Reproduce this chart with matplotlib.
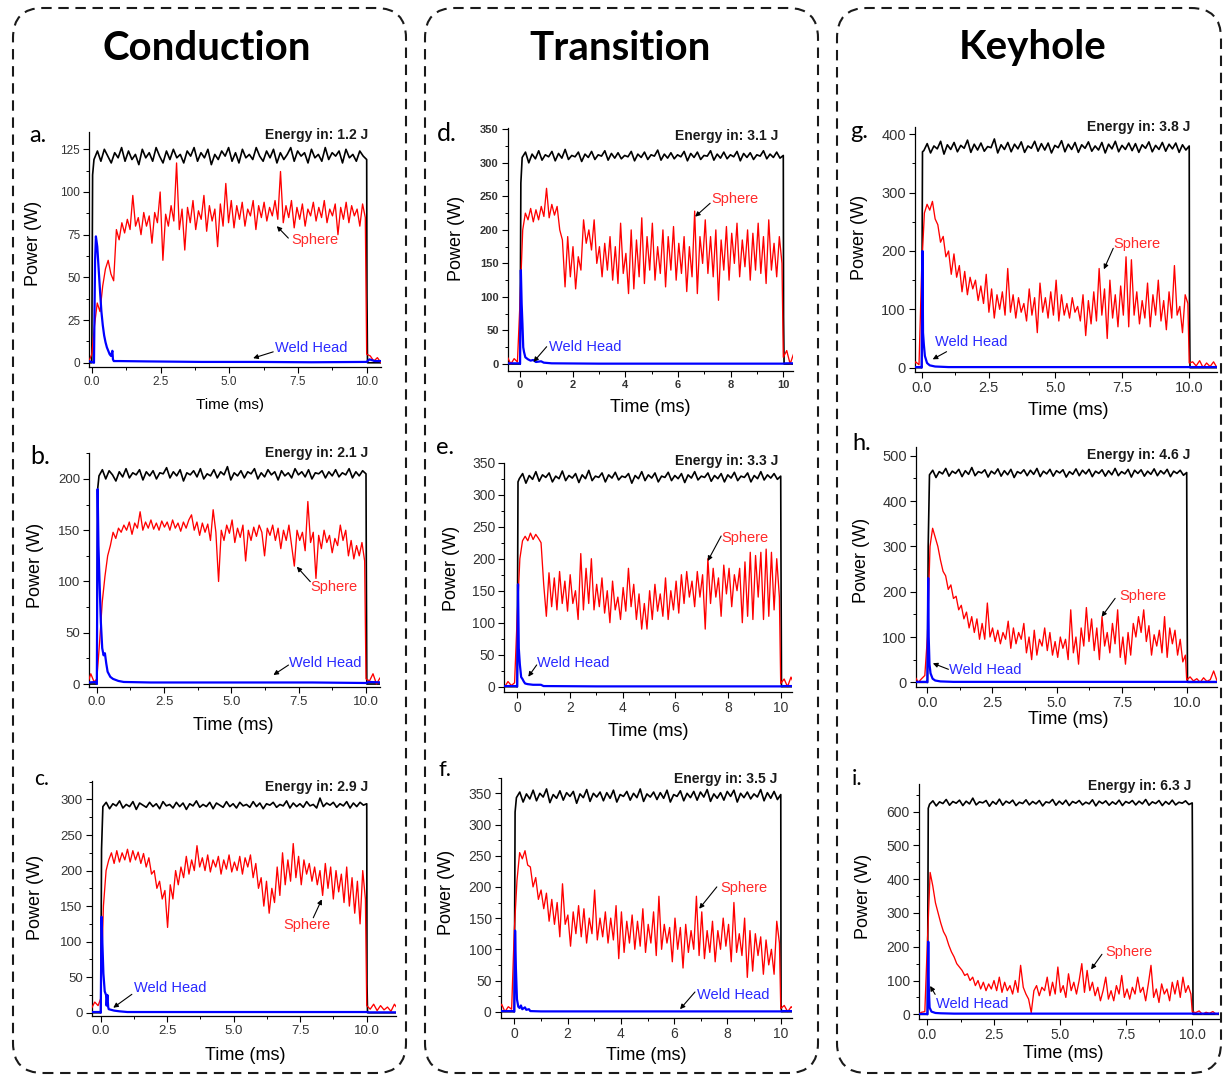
import numpy as np
import matplotlib
matplotlib.use('Agg')
import matplotlib.pyplot as plt
from matplotlib.patches import FancyBboxPatch
from matplotlib.transforms import IdentityTransform
from matplotlib.ticker import MultipleLocator, FormatStrFormatter

# ---------------- DATA ----------------
column_titles = ["Conduction", "Transition", "Keyhole"]
panel_letters = ["a.", "b.", "c.", "d.", "e.", "f.", "g.", "h.", "i."]
energy_in = [1.2, 2.1, 2.9, 3.1, 3.3, 3.5, 3.8, 4.6, 6.3]

# Laser (input) power plateau samples, t = 0.1 .. 10.0 ms
laser_a = [119,124,118,125,121,117,123,120,126,118,124,119,122,116,125,120,123,118,126,121,117,124,119,125,120,122,117,124,121,126,118,123,120,125,116,122,119,124,121,126,118,123,117,125,120,122,119,126,121,118,124,120,125,117,123,119,122,126,118,124,121,123,117,125,120,122,118,126,119,123,121,124,117,125,120,122,118,124,121,119]
laser_b = [203,209,200,208,204,198,207,202,210,201,206,204,209,199,207,203,208,200,206,205,211,201,207,203,209,198,206,204,208,202,210,200,205,203,209,201,207,204,212,199,206,203,208,201,207,205,210,200,206,202,209,204,207,199,208,203,206,201,210,204,207,202,209,200,206,205,208,201,207,203,209,202,206,204,210,201,207,203,208,205]
laser_c = [290,296,287,294,291,298,288,293,290,297,286,295,292,289,296,290,294,287,297,291,293,288,296,290,295,286,294,291,298,289,293,290,296,287,295,292,289,297,290,294,288,296,291,293,289,297,290,295,287,294,292,296,289,293,291,298,288,295,290,294,289,297,291,293,288,302,290,295,292,296,289,294,291,297,288,295,290,296,292,294]
laser_d = [308,316,300,313,306,318,304,312,309,317,303,314,307,320,305,311,309,316,302,313,308,317,305,312,310,318,304,314,307,315,306,311,309,317,303,313,308,316,305,312,310,319,304,313,307,315,306,312,309,317,303,314,308,316,305,311,310,318,304,313,307,316,306,312,309,317,303,314,308,315,305,312,310,318,306,313,308,316,307,311]
laser_e = [325,333,318,330,324,336,321,331,327,334,320,329,325,337,322,330,326,333,319,331,325,338,322,329,327,334,320,331,326,335,323,329,327,333,318,330,325,336,322,331,326,334,320,329,327,335,322,330,325,333,319,331,326,336,323,329,327,334,321,330,325,333,320,331,326,335,322,329,327,334,320,330,325,336,323,331,326,333,324,329]
laser_f = [343,352,336,349,341,355,338,350,344,357,335,348,342,354,339,351,345,353,334,349,343,356,337,350,344,352,338,351,342,355,336,348,345,353,339,350,343,357,337,349,344,352,340,351,342,355,336,348,345,354,338,350,343,353,339,352,344,356,337,349,342,351,339,353,345,355,336,350,343,352,341,349,344,356,338,351,342,353,340,348]
laser_g = [372,384,368,380,375,388,366,382,374,386,370,381,376,390,369,383,373,385,371,379,377,392,368,382,374,386,370,383,375,387,369,380,376,388,371,384,373,385,368,381,377,389,370,383,374,386,369,382,376,387,371,380,373,386,368,383,375,388,370,381,374,385,372,384,369,382,376,387,370,381,374,386,371,383,375,385,369,382,373,380]
laser_h = [458,468,452,465,460,472,455,466,461,470,454,467,459,474,456,465,462,469,453,466,460,471,455,467,458,470,452,465,461,469,456,468,459,472,454,466,460,470,455,467,462,469,453,465,459,471,456,468,460,470,454,466,461,469,455,467,458,472,456,465,460,470,453,468,461,469,455,466,459,471,456,467,460,470,454,466,461,468,457,463]
laser_i = [622,632,617,629,624,636,619,630,625,634,618,631,623,640,620,629,626,633,616,630,622,637,619,631,625,634,618,628,624,635,620,630,623,633,617,629,626,636,619,631,622,634,618,630,625,633,620,628,623,635,617,631,624,632,619,629,622,634,618,630,625,633,620,631,623,636,619,629,624,633,618,630,622,634,620,628,625,632,621,626]
laser_rise = [110, 190, 230, 270, 320, 320, 370, 300, 610]   # first sample on the rising edge (W)
laser_fall = [40, 125, 40, 70, 200, 10, 115, 250, 460]       # last sample on the falling edge (W)

# Sphere (absorbed) power: before pulse (-0.5..-0.1 ms), during (0..9.9 ms), after (10..11 ms)
sphere_a_pre = [2,5,0,4,1]
sphere_a_on = [5,22,35,30,45,55,60,52,48,78, 72,82,76,84,78,98,80,85,75,88, 80,86,70,88,82,100,60,87,80,92, 83,117,78,90,66,91,82,95,78,89, 84,98,77,92,83,90,68,93,80,105, 82,95,79,92,84,94,80,90,86,95, 78,92,85,94,83,91,86,95,84,112, 82,92,85,95,79,91,84,93,80,90, 86,94,83,91,85,95,82,90,86,93, 75,91,84,94,82,92,86,90,80,93,85]
sphere_a_off = [5,4,1,3,0,2,1,3,0,2,1]

sphere_b_pre = [3,8,0,10,2]
sphere_b_on = [5,40,80,105,125,135,148,142,152,148, 155,150,158,146,157,152,168,150,158,152, 160,151,157,150,159,153,158,150,160,152, 157,149,158,152,160,165,150,158,145,157, 148,156,140,170,148,100,150,140,155,147, 160,138,152,143,155,120,150,140,153,144, 155,148,125,152,145,155,140,152,132,150, 140,155,135,115,150,140,148,130,178,138, 148,103,145,132,150,138,145,128,142,135, 155,140,150,125,140,122,135,125,138,120]
sphere_b_off = [5,3,10,0,6,2,4,1,3,0,2]

sphere_c_pre = [8,12,6,15,10]
sphere_c_on = [20,150,200,215,225,210,228,212,225,215, 230,212,228,215,226,210,224,205,218,195, 200,175,185,160,172,120,180,160,200,180, 205,190,220,195,215,200,235,205,218,200, 222,198,215,205,220,195,215,202,222,198, 212,200,220,195,218,205,222,190,210,175, 190,150,185,140,175,155,205,165,225,180, 215,185,238,190,220,180,215,195,210,185, 205,180,200,165,210,175,205,160,200,170, 195,155,205,150,190,140,185,125,200,160]
sphere_c_off = [10,5,12,3,10,4,8,2,12,5,9]

sphere_d_pre = [5,10,0,8,3]
sphere_d_on = [95,200,225,215,232,212,230,215,235,220, 262,218,238,222,235,200,185,115,190,130, 175,112,160,140,215,180,200,170,215,150, 175,130,180,140,190,125,175,120,210,135, 165,105,200,112,185,130,218,120,190,140, 210,125,175,135,200,115,190,140,205,125, 180,135,190,108,175,130,228,105,190,150, 215,135,190,130,200,95,185,140,205,125, 195,150,210,130,185,145,200,125,195,140, 210,135,190,120,215,140,180,130,190,150]
sphere_d_off = [10,20,0,15,5,18,2,10,0,8,4]

sphere_e_pre = [5,0,8,2,6]
sphere_e_on = [110,200,228,235,228,240,230,238,232,225, 160,110,178,125,170,120,180,130,165,118, 175,130,150,105,208,120,185,130,200,120, 160,125,170,115,150,100,165,120,140,105, 155,118,185,125,160,105,145,90,130,90, 150,105,160,118,145,110,170,105,150,120, 165,115,175,130,180,140,165,125,180,140, 175,90,200,130,185,140,170,110,190,145, 185,125,175,150,185,100,195,110,210,105, 205,140,210,105,215,110,210,120,200,140]
sphere_e_off = [5,12,0,15,3,10,0,8,2,5,1]

sphere_f_pre = [3,12,0,8,4]
sphere_f_on = [130,210,255,245,258,235,232,200,215,180, 195,165,190,145,180,140,175,120,205,140, 155,105,160,125,170,120,165,110,150,125, 195,115,150,120,160,110,150,115,170,85, 160,95,145,110,155,100,145,105,165,95, 140,110,160,90,185,100,140,110,135,80, 150,100,135,70,140,95,130,100,185,90, 160,85,130,95,145,80,130,100,150,105, 140,80,175,95,125,90,150,55,130,65, 125,90,120,60,115,75,100,60,145,110]
sphere_f_off = [5,10,0,8,3,12,0,6,2,5,1]

sphere_g_pre = [2,8,0,10,5]
sphere_g_on = [170,265,280,270,285,255,245,215,225,190, 200,160,195,155,175,130,165,125,155,135, 150,115,140,110,160,95,135,85,125,100, 130,90,170,95,125,85,120,95,110,80, 135,90,120,60,145,95,120,85,130,90, 150,80,125,90,110,85,120,95,105,80, 125,55,115,75,130,80,170,90,135,50, 150,85,125,70,140,90,190,70,185,90, 130,75,115,85,145,70,125,90,150,80, 115,65,130,85,175,90,105,60,125,110]
sphere_g_off = [8,10,3,12,0,8,2,10,0,6,3]

sphere_h_pre = [5,12,0,8,15]
sphere_h_on = [100,300,340,320,300,270,245,235,205,215, 185,190,160,170,140,155,120,145,110,140, 95,130,95,175,100,120,90,115,85,110, 95,135,75,120,85,110,95,130,65,100, 50,115,60,95,80,120,70,110,60,90, 55,100,75,95,50,160,65,100,40,120, 80,165,90,140,70,120,50,145,80,110, 65,130,85,160,55,100,40,110,60,130, 100,145,110,160,90,125,60,105,80,115, 65,145,55,120,85,115,60,95,45,60]
sphere_h_off = [5,12,3,8,0,10,2,6,25,3,8]

sphere_i_pre = [3,10,0,6,8]
sphere_i_on = [220,420,380,330,300,270,245,230,205,185, 170,150,140,130,115,120,100,110,85,100, 75,95,70,90,75,100,70,110,65,95, 70,85,60,100,65,145,80,60,45,5, 70,85,55,80,70,110,55,95,60,140, 65,85,50,120,70,95,60,100,150,65, 130,70,95,55,80,40,70,110,45,70, 40,85,60,115,50,75,45,80,60,110, 65,80,40,90,145,50,75,35,90,60, 75,40,95,60,100,50,110,65,85,60]
sphere_i_off = [8,5,10,0,6,3,8,0,5,2,10]

# Weld head (reflected) power: sample times (ms) and values (W)
weld_t_a = [-0.6,-0.3,0.08,0.12,0.15,0.2,0.25,0.3,0.35,0.4,0.45,0.5,0.55,0.6,0.65,0.7,0.75,0.77,0.8,1.0,2.0,4.0,6.0,8.0,10.0,10.1,10.3,11.2]
weld_p_a = [1,2,0,60,74,68,55,42,30,22,16,12,9,7,5,4,7,2,1,1,0.8,0.5,0.5,0.3,0.5,2,1,1]
weld_t_b = [-0.6,-0.02,0.0,0.03,0.06,0.1,0.15,0.2,0.25,0.3,0.35,0.4,0.5,0.6,0.8,1.0,2.0,4.0,6.0,8.0,10.0,10.1,11.2]
weld_p_b = [1,2,0,190,135,100,60,35,28,30,20,12,7,5,3,2,1.5,1.5,1.5,1.5,1,2,1]
weld_t_c = [-0.6,-0.02,0.0,0.03,0.06,0.1,0.15,0.2,0.22,0.25,0.28,0.3,0.4,0.5,0.7,1.0,3.0,6.0,9.0,10.0,10.1,11.2]
weld_p_c = [1,1,0,135,100,55,30,25,10,25,8,5,4,3,2,1,1,1,1,1,0.5,0.5]
weld_t_d = [-0.6,-0.02,0.0,0.03,0.06,0.09,0.12,0.15,0.2,0.3,0.4,0.5,0.6,0.8,0.9,1.2,3.0,6.0,9.0,10.0,10.1,10.6]
weld_p_d = [1,1,0,140,90,60,25,18,10,7,5,6,3,4,2,1,0.5,0.5,0.5,0.5,1,1]
weld_t_e = [-0.6,-0.02,0.0,0.03,0.06,0.1,0.15,0.2,0.25,0.3,0.4,0.6,0.9,1.0,3.0,6.0,9.0,10.0,10.1,10.6]
weld_p_e = [1,1,0,160,60,35,15,12,8,5,4,3,3,1,0.5,0.5,0.5,0.5,1,1]
weld_t_f = [-0.6,-0.02,0.0,0.03,0.06,0.1,0.15,0.2,0.25,0.3,0.4,0.45,0.55,0.6,1.0,3.0,6.0,9.0,10.0,10.1,10.6]
weld_p_f = [1,1,0,130,70,20,8,6,10,4,7,3,4,1,0.5,0.5,0.5,0.5,0.5,1,1]
weld_t_g = [-0.6,-0.02,0.0,0.03,0.05,0.08,0.12,0.2,0.3,0.5,1.0,3.0,6.0,9.0,10.0,10.1,11.2]
weld_p_g = [1,1,0,200,60,40,20,8,4,2,1,1,1,1,1,1,1]
weld_t_h = [-0.6,-0.02,0.0,0.03,0.05,0.08,0.12,0.2,0.3,0.5,1.0,3.0,6.0,9.0,10.0,10.1,11.2]
weld_p_h = [1,1,0,230,100,40,20,8,4,2,1,1,1,1,1,1,1]
weld_t_i = [-0.6,-0.02,0.0,0.03,0.05,0.08,0.15,0.3,0.5,1.0,3.0,6.0,9.0,10.0,10.1,11.2]
weld_p_i = [1,1,0,215,80,20,8,4,3,2,2,2,2,2,2,2]

lasers = [laser_a, laser_b, laser_c, laser_d, laser_e, laser_f, laser_g, laser_h, laser_i]
sph_pre = [sphere_a_pre, sphere_b_pre, sphere_c_pre, sphere_d_pre, sphere_e_pre, sphere_f_pre, sphere_g_pre, sphere_h_pre, sphere_i_pre]
sph_on = [sphere_a_on, sphere_b_on, sphere_c_on, sphere_d_on, sphere_e_on, sphere_f_on, sphere_g_on, sphere_h_on, sphere_i_on]
sph_off = [sphere_a_off, sphere_b_off, sphere_c_off, sphere_d_off, sphere_e_off, sphere_f_off, sphere_g_off, sphere_h_off, sphere_i_off]
weld_t = [weld_t_a, weld_t_b, weld_t_c, weld_t_d, weld_t_e, weld_t_f, weld_t_g, weld_t_h, weld_t_i]
weld_p = [weld_p_a, weld_p_b, weld_p_c, weld_p_d, weld_p_e, weld_p_f, weld_p_g, weld_p_h, weld_p_i]

# ---------------- LAYOUT (pixels) ----------------
W, H = 1225, 1076
fig = plt.figure(figsize=(W / 100, H / 100), dpi=100)
fig.patch.set_facecolor('white')

def fx(x):
    return x / W

def fy(y):
    return 1 - y / H

TICKFONT = 'Liberation Sans'

# axes rect (L, T, R, B) in px, xlim, ylim, xmajor, ymajor, tick fontsize, bold ticks
layout = [
    dict(rect=(89.3, 131.7, 380.7, 366.7), xlim=(-0.09, 10.51), ylim=(-2.3, 135.3), xm=2.5, ym=25, tfs=8.5, bold=False),
    dict(rect=(89.3, 452.7, 380.0, 687.3), xlim=(-0.28, 10.52), ylim=(-3.2, 225.6), xm=2.5, ym=50, tfs=9.5, bold=False),
    dict(rect=(91.7, 781.0, 396.0, 1016.0), xlim=(-0.34, 11.1), ylim=(-4.6, 326), xm=2.5, ym=50, tfs=9.5, bold=False),
    dict(rect=(507.7, 128.3, 793.3, 370.7), xlim=(-0.47, 10.38), ylim=(-10, 351.5), xm=2, ym=50, tfs=8, bold=True),
    dict(rect=(504.3, 462.7, 792.3, 692.3), xlim=(-0.49, 10.44), ylim=(-8.75, 350), xm=2, ym=50, tfs=10, bold=False),
    dict(rect=(500.7, 777.7, 791.7, 1017.7), xlim=(-0.51, 10.41), ylim=(-9.6, 375), xm=2, ym=50, tfs=10, bold=False),
    dict(rect=(915.0, 126.7, 1217.3, 371.7), xlim=(-0.25, 11.05), ylim=(-6.9, 413), xm=2.5, ym=100, tfs=10.5, bold=False),
    dict(rect=(916.0, 446.7, 1217.3, 687.3), xlim=(-0.44, 11.18), ylim=(-11, 520), xm=2.5, ym=100, tfs=10.5, bold=False),
    dict(rect=(919.0, 784.3, 1218.7, 1018.7), xlim=(-0.32, 11.0), ylim=(-13, 681), xm=2.5, ym=100, tfs=10, bold=False),
]

# annotation placement (data coords): (text xy, arrow tail, arrow head)
ann_sphere = [
    ((8.1, 72), (7.15, 73), (6.73, 80)),
    ((8.8, 95), (7.93, 99.8), (7.43, 114.4)),
    ((7.74, 123), (7.99, 133.6), (8.31, 159.5)),
    ((8.17, 245.6), (7.22, 239.7), (6.65, 219.7)),
    ((8.65, 233), (7.74, 235.5), (7.23, 196.4)),
    ((8.6, 198.7), (7.6, 200), (6.94, 165)),
    ((8.03, 212), (7.16, 204.6), (6.81, 168.6)),
    ((8.33, 191), (7.24, 185.3), (6.72, 144.7)),
    ((7.61, 184.5), (6.59, 177.7), (6.18, 133)),
]
ann_weld = [
    ((8.0, 8.4), (6.6, 6.4), (5.87, 2.7)),
    ((8.49, 20.2), (7.12, 18.5), (6.56, 8.8)),
    ((2.6, 34.3), (1.17, 25.9), (0.47, 7)),
    ((2.47, 24.9), (1.01, 25.8), (0.51, 3)),
    ((2.13, 36.5), (0.74, 34), (0.42, 15.6)),
    ((8.22, 26.3), (6.78, 31.6), (6.22, 4)),
    ((1.87, 44.6), (0.93, 27.4), (0.41, 14.3)),
    ((2.22, 27), (0.81, 28.7), (0.21, 42)),
    ((1.69, 29.6), (0.29, 59), (0.1, 84)),
]

# text positions in px
energy_pos = [(368, 135), (368.3, 452.7), (368.3, 786.7), (778.3, 136), (778.3, 460.7),
              (777.3, 779.3), (1190, 126.7), (1190.7, 455), (1191.7, 786)]
letter_pos = [(38.3, 136), (40, 456), (41.7, 779), (446.7, 133.3), (445, 448), (445, 770),
              (859, 131), (861.7, 444), (856.7, 779)]
letter_fs = [17, 18, 15, 18, 17, 16, 17, 17, 16]
ylab_pos = [(33.3, 243), (35, 565), (35, 897), (456.7, 238), (451.7, 568), (446.7, 892),
            (860, 237), (861.7, 560), (863.3, 896)]
xlab_pos = [(230, 405), (233, 725), (245, 1056), (650, 407), (648.3, 731), (646.7, 1056),
            (1068.3, 410), (1068.3, 719), (1063.3, 1053)]
xlab_fs = [11, 13, 13, 13, 13, 13, 13, 13, 13]

# ---------------- dashed boxes & titles ----------------
boxes = [(13, 8, 406, 1073), (425, 8, 818, 1073), (837, 8, 1221, 1073)]
for (x0, y0, x1, y1) in boxes:
    p = FancyBboxPatch((x0, H - y1), x1 - x0, y1 - y0,
                       boxstyle="round,pad=0,rounding_size=30",
                       transform=IdentityTransform(), fill=False,
                       linestyle=(0, (5, 3.2)), linewidth=1.5, edgecolor='#1a1a1a')
    fig.add_artist(p)

title_x = [207, 620, 1033]
for t, x in zip(column_titles, title_x):
    fig.text(fx(x), fy(48), t, ha='center', va='center', fontsize=29,
             fontweight='bold', family='Lato', color='black')

# ---------------- panels ----------------
for k in range(9):
    lay = layout[k]
    L, T, R, B = lay['rect']
    ax = fig.add_axes([fx(L), fy(B), (R - L) / W, (B - T) / H])
    ax.set_facecolor('none')

    # laser trace
    plateau = lasers[k]
    lt = np.concatenate([[-0.7, 0.0, 0.03], np.linspace(0.08, 10.0, len(plateau)), [10.01, 10.03, 11.5]])
    lv = np.concatenate([[0, 0, laser_rise[k]], plateau, [laser_fall[k], 0, 0]])
    ax.plot(lt, lv, color='black', lw=1.2, zorder=2)

    # sphere trace
    pre, on, off = sph_pre[k], sph_on[k], sph_off[k]
    st = np.concatenate([np.linspace(-0.6, -0.1, len(pre)), np.linspace(0.0, 9.95, len(on)),
                         np.linspace(10.0, 11.3, len(off))])
    sv = np.concatenate([pre, on, off])
    ax.plot(st, sv, color='#ff0000', lw=0.95, zorder=3)

    # weld head trace
    ax.plot(weld_t[k], weld_p[k], color='#0000ff', lw=1.6, zorder=4)

    ax.set_xlim(*lay['xlim'])
    ax.set_ylim(*lay['ylim'])
    for s in ['top', 'right']:
        ax.spines[s].set_visible(False)
    for s in ['left', 'bottom']:
        ax.spines[s].set_linewidth(0.9)

    ax.xaxis.set_major_locator(MultipleLocator(lay['xm']))
    ax.xaxis.set_minor_locator(MultipleLocator(lay['xm'] / 2))
    ax.yaxis.set_major_locator(MultipleLocator(lay['ym']))
    ax.yaxis.set_minor_locator(MultipleLocator(lay['ym'] / 2))
    if lay['xm'] == 2.5:
        ax.xaxis.set_major_formatter(FormatStrFormatter('%.1f'))
    else:
        ax.xaxis.set_major_formatter(FormatStrFormatter('%d'))
    ax.tick_params(which='major', direction='out', length=4, width=0.8, pad=2.5,
                   labelsize=lay['tfs'], labelcolor='#333333')
    ax.tick_params(which='minor', direction='out', length=2.5, width=0.7)
    for lab in ax.get_xticklabels() + ax.get_yticklabels():
        lab.set_family(TICKFONT)
        if lay['bold']:
            lab.set_fontweight('bold')

    # annotations
    (stxt, stail, shead) = ann_sphere[k]
    ax.text(stxt[0], stxt[1], 'Sphere', color='#ff2a2a', fontsize=10.5,
            family=TICKFONT, ha='center', va='center', zorder=6)
    ax.annotate('', xy=shead, xytext=stail,
                arrowprops=dict(arrowstyle='-|>', color='black', lw=0.8,
                                mutation_scale=7, shrinkA=0, shrinkB=0), zorder=6)
    (wtxt, wtail, whead) = ann_weld[k]
    ax.text(wtxt[0], wtxt[1], 'Weld Head', color='#2a2aff', fontsize=10.5,
            family=TICKFONT, ha='center', va='center', zorder=6)
    ax.annotate('', xy=whead, xytext=wtail,
                arrowprops=dict(arrowstyle='-|>', color='black', lw=0.8,
                                mutation_scale=7, shrinkA=0, shrinkB=0), zorder=6)

    # texts around the panel
    ex, ey = energy_pos[k]
    fig.text(fx(ex), fy(ey), 'Energy in: %.1f J' % energy_in[k], ha='right', va='center',
             fontsize=10, fontweight='bold', family=TICKFONT, color='#1a1a1a')
    lx, ly = letter_pos[k]
    fig.text(fx(lx), fy(ly), panel_letters[k], ha='center', va='center',
             fontsize=letter_fs[k], family='Lato', color='black')
    yx, yy = ylab_pos[k]
    fig.text(fx(yx), fy(yy), 'Power (W)', rotation=90, ha='center', va='center',
             fontsize=13, family=TICKFONT, color='black')
    tx, ty = xlab_pos[k]
    fig.text(fx(tx), fy(ty), 'Time (ms)', ha='center', va='center',
             fontsize=xlab_fs[k], family=TICKFONT, color='black')

fig.savefig('out.png', dpi=100)
